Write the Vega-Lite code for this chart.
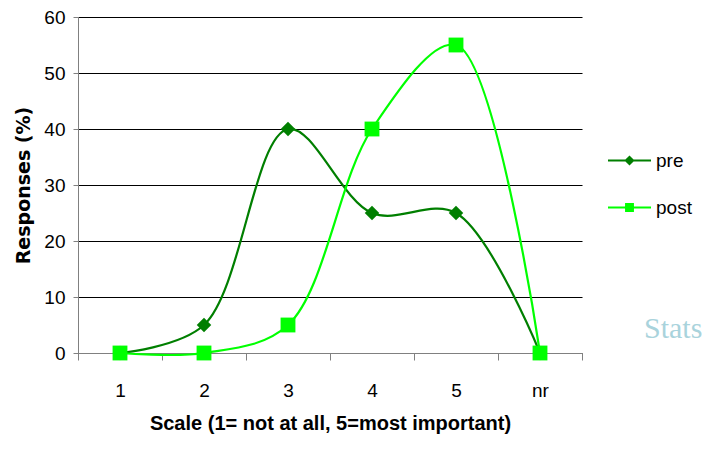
{
  "$schema": "https://vega.github.io/schema/vega-lite/v6.json",
  "width": 504,
  "height": 336,
  "autosize": "none",
  "padding": {"left": 78, "top": 17, "right": 125, "bottom": 96},
  "background": "white",
  "title": {"text": "Stats", "orient": "right", "anchor": "end", "angle": 0, "font": "Liberation Serif", "fontSize": 30, "fontWeight": "normal", "color": "#a9d3dc", "offset": 10, "baseline": "bottom", "dx": -58, "dy": -89},
  "config": {
    "view": {"stroke": null},
    "font": "Liberation Sans",
    "axis": {"labelFont": "Liberation Sans", "labelColor": "#000", "titleColor": "#000"}
  },
  "data": {
    "values": [
      {"scale": "1", "series": "pre", "value": 0},
      {"scale": "2", "series": "pre", "value": 5},
      {"scale": "3", "series": "pre", "value": 40},
      {"scale": "4", "series": "pre", "value": 25},
      {"scale": "5", "series": "pre", "value": 25},
      {"scale": "nr", "series": "pre", "value": 0},
      {"scale": "1", "series": "post", "value": 0},
      {"scale": "2", "series": "post", "value": 0},
      {"scale": "3", "series": "post", "value": 5},
      {"scale": "4", "series": "post", "value": 40},
      {"scale": "5", "series": "post", "value": 55},
      {"scale": "nr", "series": "post", "value": 0}
    ]
  },
  "encoding": {
    "x": {
      "field": "scale", "type": "ordinal", "sort": ["1", "2", "3", "4", "5", "nr"],
      "scale": {"paddingInner": 0, "paddingOuter": 0},
      "axis": {
        "labelAngle": 0, "labelFontSize": 19, "labelPadding": 21, "tickBand": "extent",
        "tickSize": 7, "tickColor": "#808080", "domainColor": "#808080", "grid": false,
        "title": "Scale (1= not at all, 5=most important)", "titleFont": "Liberation Sans",
        "titleFontSize": 20, "titleFontWeight": "bold", "titlePadding": 13
      }
    },
    "y": {
      "field": "value", "type": "quantitative",
      "scale": {"domain": [0, 60], "nice": false, "zero": true},
      "axis": {
        "values": [0, 10, 20, 30, 40, 50, 60], "labelFontSize": 19, "labelPadding": 8, "tickSize": 5,
        "tickColor": "#808080", "domainColor": "#808080", "grid": true, "gridColor": "#000", "gridOpacity": 1, "gridWidth": 1,
        "title": "Responses (%)", "titleFont": "DejaVu Sans", "titleFontSize": 19, "titleFontWeight": "bold", "titlePadding": 10
      }
    },
    "color": {
      "field": "series", "type": "nominal", "sort": ["pre", "post"],
      "scale": {"domain": ["pre", "post"], "range": ["#007f00", "#00ff00"]},
      "legend": {
        "title": null, "orient": "none", "legendX": 529, "legendY": 121, "labelFont": "Liberation Sans", "labelFontSize": 19,
        "rowPadding": 14, "symbolSize": 1849, "labelOffset": 4,
        "encode": {
          "symbols": {
            "update": {
              "shape": {"signal": "datum.value == 'pre' ? 'M-1,0H1M-0.17,0L0,-0.17L0.17,0L0,0.17Z' : 'M-1,0H1M-0.16,-0.16H0.16V0.16H-0.16Z'"},
              "fill": {"scale": "color", "field": "value"},
              "stroke": {"scale": "color", "field": "value"},
              "strokeWidth": {"value": 2},
              "opacity": {"value": 1}
            }
          }
        }
      }
    }
  },
  "layer": [
    {"mark": {"type": "line", "interpolate": "catmull-rom", "strokeWidth": 2.2}},
    {
      "transform": [{"filter": "datum.series == 'pre'"}],
      "mark": {"type": "point", "shape": "diamond", "filled": true, "size": 210, "opacity": 1}
    },
    {
      "transform": [{"filter": "datum.series == 'post'"}],
      "mark": {"type": "point", "shape": "square", "filled": true, "size": 220, "opacity": 1}
    }
  ]
}
